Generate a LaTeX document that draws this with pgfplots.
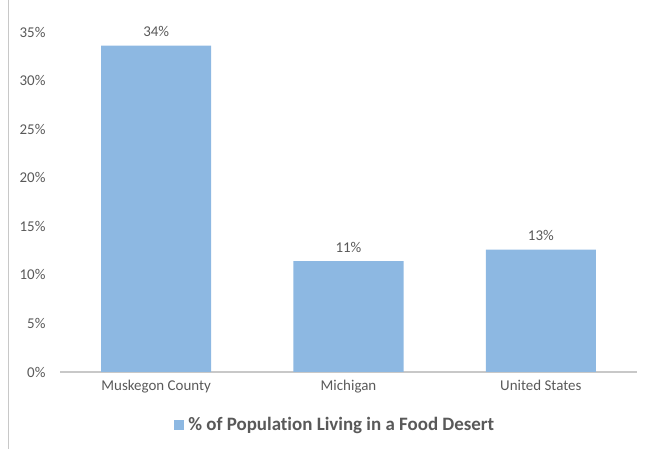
\documentclass[border=0pt]{standalone}
\usepackage{pgfplots}
\pgfplotsset{compat=1.18}
\usepackage{fontspec}
\setmainfont{Carlito}[Ligatures=NoCommon]
\definecolor{barblue}{RGB}{141,184,226}
\definecolor{txtgray}{RGB}{89,89,89}
\definecolor{axgray}{RGB}{200,200,200}
\begin{document}
\begin{tikzpicture}[x=1bp,y=1bp]
\path[use as bounding box] (0,0) rectangle (645,449);
\draw[axgray, line width=1bp] (8,0) -- (8,449);
\begin{axis}[
  at={(60bp,77bp)}, anchor=south west,
  scale only axis, width=577bp, height=340bp,
  xmin=-0.5, xmax=2.5, ymin=0, ymax=35,
  axis x line*=bottom, axis y line*=left,
  x axis line style={axgray, line width=1.5bp, -},
  y axis line style={draw=none},
  major tick length=0pt,
  xtick={0,1,2},
  xticklabels={Muskegon County, Michigan, United States},
  ytick={0,5,10,15,20,25,30,35},
  yticklabels={0\%,5\%,10\%,15\%,20\%,25\%,30\%,35\%},
  tick label style={font=\fontsize{15}{17}\selectfont, text=txtgray},
  yticklabel style={xshift=-11bp},
  xticklabel style={yshift=-5bp},
  ybar, bar width=0.572,
  nodes near coords, point meta=explicit symbolic,
  every node near coord/.append style={font=\fontsize{15}{17}\selectfont, text=txtgray, yshift=5bp},
  legend style={at={(0.477,-0.156)}, anchor=center, draw=none,
    font=\fontsize{19}{22}\selectfont\bfseries, text=txtgray,
    inner sep=0pt},
  legend image code/.code={\fill[barblue] (0bp,-5bp) rectangle (10bp,5bp);},
]
\addplot[fill=barblue, draw=none] coordinates {
  (0,33.6) [34\%]
  (1,11.4) [11\%]
  (2,12.6) [13\%]
};
\legend{\hspace{2bp}\% of Population Living in a Food Desert}
\end{axis}
\end{tikzpicture}
\end{document}
